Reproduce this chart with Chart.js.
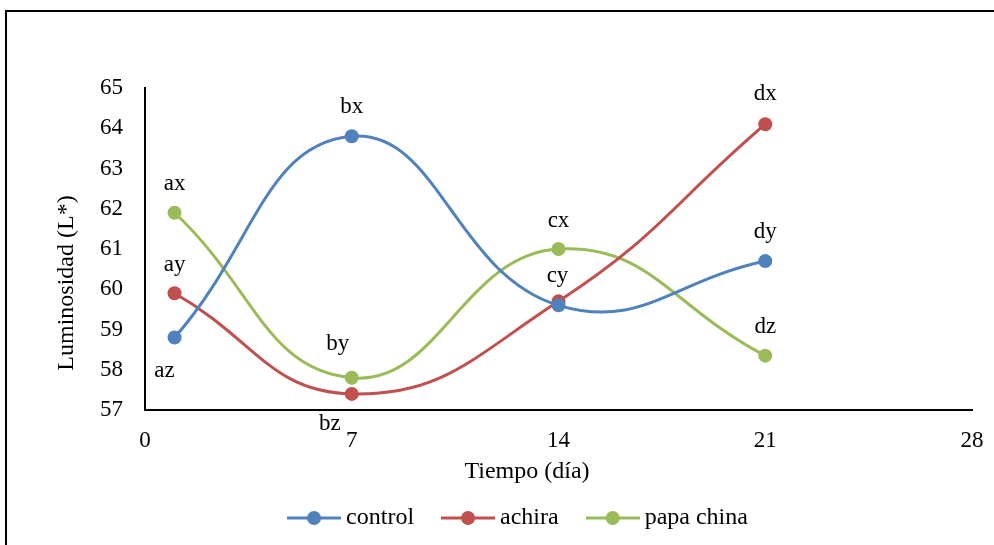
<!DOCTYPE html>
<html>
<head>
<meta charset="utf-8">
<script src="https://cdn.jsdelivr.net/npm/chart.js@4.4.0/dist/chart.umd.min.js"></script>
<style>
  html, body { margin: 0; padding: 0; background: #fff; }
  canvas { display: block; }
</style>
</head>
<body>
<canvas id="chart" width="994" height="545"></canvas>
<script>
// Measurement days and L* luminosity readings
const days = [1, 7, 14, 21];
const control = [58.8, 63.8, 59.6, 60.7];
const achira = [59.9, 57.4, 59.7, 64.1];
const papaChina = [61.9, 57.8, 61.0, 58.35];

// Significance letters shown next to each point
const controlLetters = ['az', 'bx', '', 'dy'];
const achiraLetters = ['ay', 'bz', 'cy', 'dx'];
const papaChinaLetters = ['ax', 'by', 'cx', 'dz'];

const xTicks = [0, 7, 14, 21, 28];
const yMin = 57, yMax = 65;

const seriesNames = ['control', 'achira', 'papa china'];
const colors = ['#4F81BD', '#C0504D', '#9BBB59'];

const SERIF = '"Liberation Serif", "Times New Roman", serif';
Chart.defaults.color = '#000';
Chart.defaults.font.family = SERIF;

// Legend swatch: short line with a dot in the middle
function swatch(color) {
  const c = document.createElement('canvas');
  c.width = 54; c.height = 16;
  const g = c.getContext('2d');
  g.strokeStyle = color; g.lineWidth = 3;
  g.beginPath(); g.moveTo(0, 8); g.lineTo(54, 8); g.stroke();
  g.fillStyle = color;
  g.beginPath(); g.arc(27, 8, 7, 0, Math.PI * 2); g.fill();
  return c;
}
const swatches = colors.map(swatch);

function series(values) {
  return days.map((d, i) => ({ x: d, y: values[i] }));
}

const allValues = [control, achira, papaChina];
const allLetters = [controlLetters, achiraLetters, papaChinaLetters];

const datasets = allValues.map((vals, i) => ({
  label: seriesNames[i],
  data: series(vals),
  letters: allLetters[i],
  borderColor: colors[i],
  backgroundColor: colors[i],
  pointBackgroundColor: colors[i],
  pointBorderWidth: 0,
  pointRadius: 7,
  pointHoverRadius: 7,
  borderWidth: 3,
  tension: 0.45,
  fill: false
}));

// Outer frame of the figure
const framePlugin = {
  id: 'frame',
  beforeDraw(chart) {
    const ctx = chart.ctx;
    ctx.save();
    ctx.fillStyle = '#fff';
    ctx.fillRect(0, 0, chart.width, chart.height);
    ctx.strokeStyle = '#000';
    ctx.lineWidth = 2;
    ctx.strokeRect(6, 11, chart.width + 20, chart.height + 20);
    ctx.restore();
  }
};

// Letters next to the points
const letterPlugin = {
  id: 'pointLetters',
  afterDatasetsDraw(chart, args, opts) {
    const ctx = chart.ctx;
    ctx.save();
    ctx.font = '23px ' + SERIF;
    ctx.fillStyle = '#000';
    ctx.textAlign = 'center';
    ctx.textBaseline = 'middle';
    chart.data.datasets.forEach((ds, di) => {
      const meta = chart.getDatasetMeta(di);
      ds.letters.forEach((t, i) => {
        if (!t) return;
        const p = meta.data[i];
        const o = opts.offsets[di][i];
        ctx.fillText(t, p.x + o[0], p.y + o[1]);
      });
    });
    ctx.restore();
  }
};

// Axis titles
const axisTitlePlugin = {
  id: 'axisTitles',
  afterDraw(chart) {
    const ctx = chart.ctx;
    ctx.save();
    ctx.fillStyle = '#000';
    ctx.font = '24px ' + SERIF;
    ctx.textAlign = 'center';
    ctx.textBaseline = 'alphabetic';
    ctx.fillText('Tiempo (día)', 527, 478);
    ctx.translate(73, 283);
    ctx.rotate(-Math.PI / 2);
    ctx.fillText('Luminosidad (L*)', 0, 0);
    ctx.restore();
  }
};

new Chart(document.getElementById('chart'), {
  type: 'line',
  data: { datasets },
  plugins: [framePlugin, letterPlugin, axisTitlePlugin],
  options: {
    responsive: false,
    animation: false,
    devicePixelRatio: 1,
    layout: { padding: { left: 70, right: 22, top: 88, bottom: 5 } },
    plugins: {
      tooltip: { enabled: false },
      legend: {
        position: 'bottom',
        labels: {
          usePointStyle: true,
          pointStyleWidth: 40,
          padding: 34,
          font: { size: 24, family: SERIF },
          color: '#000',
          generateLabels(chart) {
            const items = Chart.defaults.plugins.legend.labels.generateLabels(chart);
            items.forEach((it, i) => { it.pointStyle = swatches[i]; });
            return items;
          }
        }
      },
      pointLetters: {
        offsets: [
          [[-10, 33], [0, -29], [0, 0], [0, -29]],
          [[0, -28], [-22, 30], [-1, -25], [0, -30]],
          [[0, -29], [-14, -34], [0, -28], [0, -29]]
        ]
      }
    },
    scales: {
      x: {
        type: 'linear',
        min: xTicks[0],
        max: xTicks[xTicks.length - 1],
        afterBuildTicks(scale) { scale.ticks = xTicks.map(v => ({ value: v })); },
        afterFit(scale) {
          scale.height = 62;
          scale.paddingLeft = 0;
          scale.paddingRight = 0;
        },
        grid: { display: false, drawTicks: false },
        border: { display: true, color: '#000', width: 2 },
        ticks: { font: { size: 23, family: SERIF }, padding: 17, maxRotation: 0, color: '#000' }
      },
      y: {
        min: yMin,
        max: yMax,
        afterFit(scale) { scale.width = 75; },
        grid: { display: false, drawTicks: false },
        border: { display: true, color: '#000', width: 2 },
        ticks: { stepSize: 1, font: { size: 23, family: SERIF }, padding: 22, color: '#000' }
      }
    }
  }
});
</script>
</body>
</html>
